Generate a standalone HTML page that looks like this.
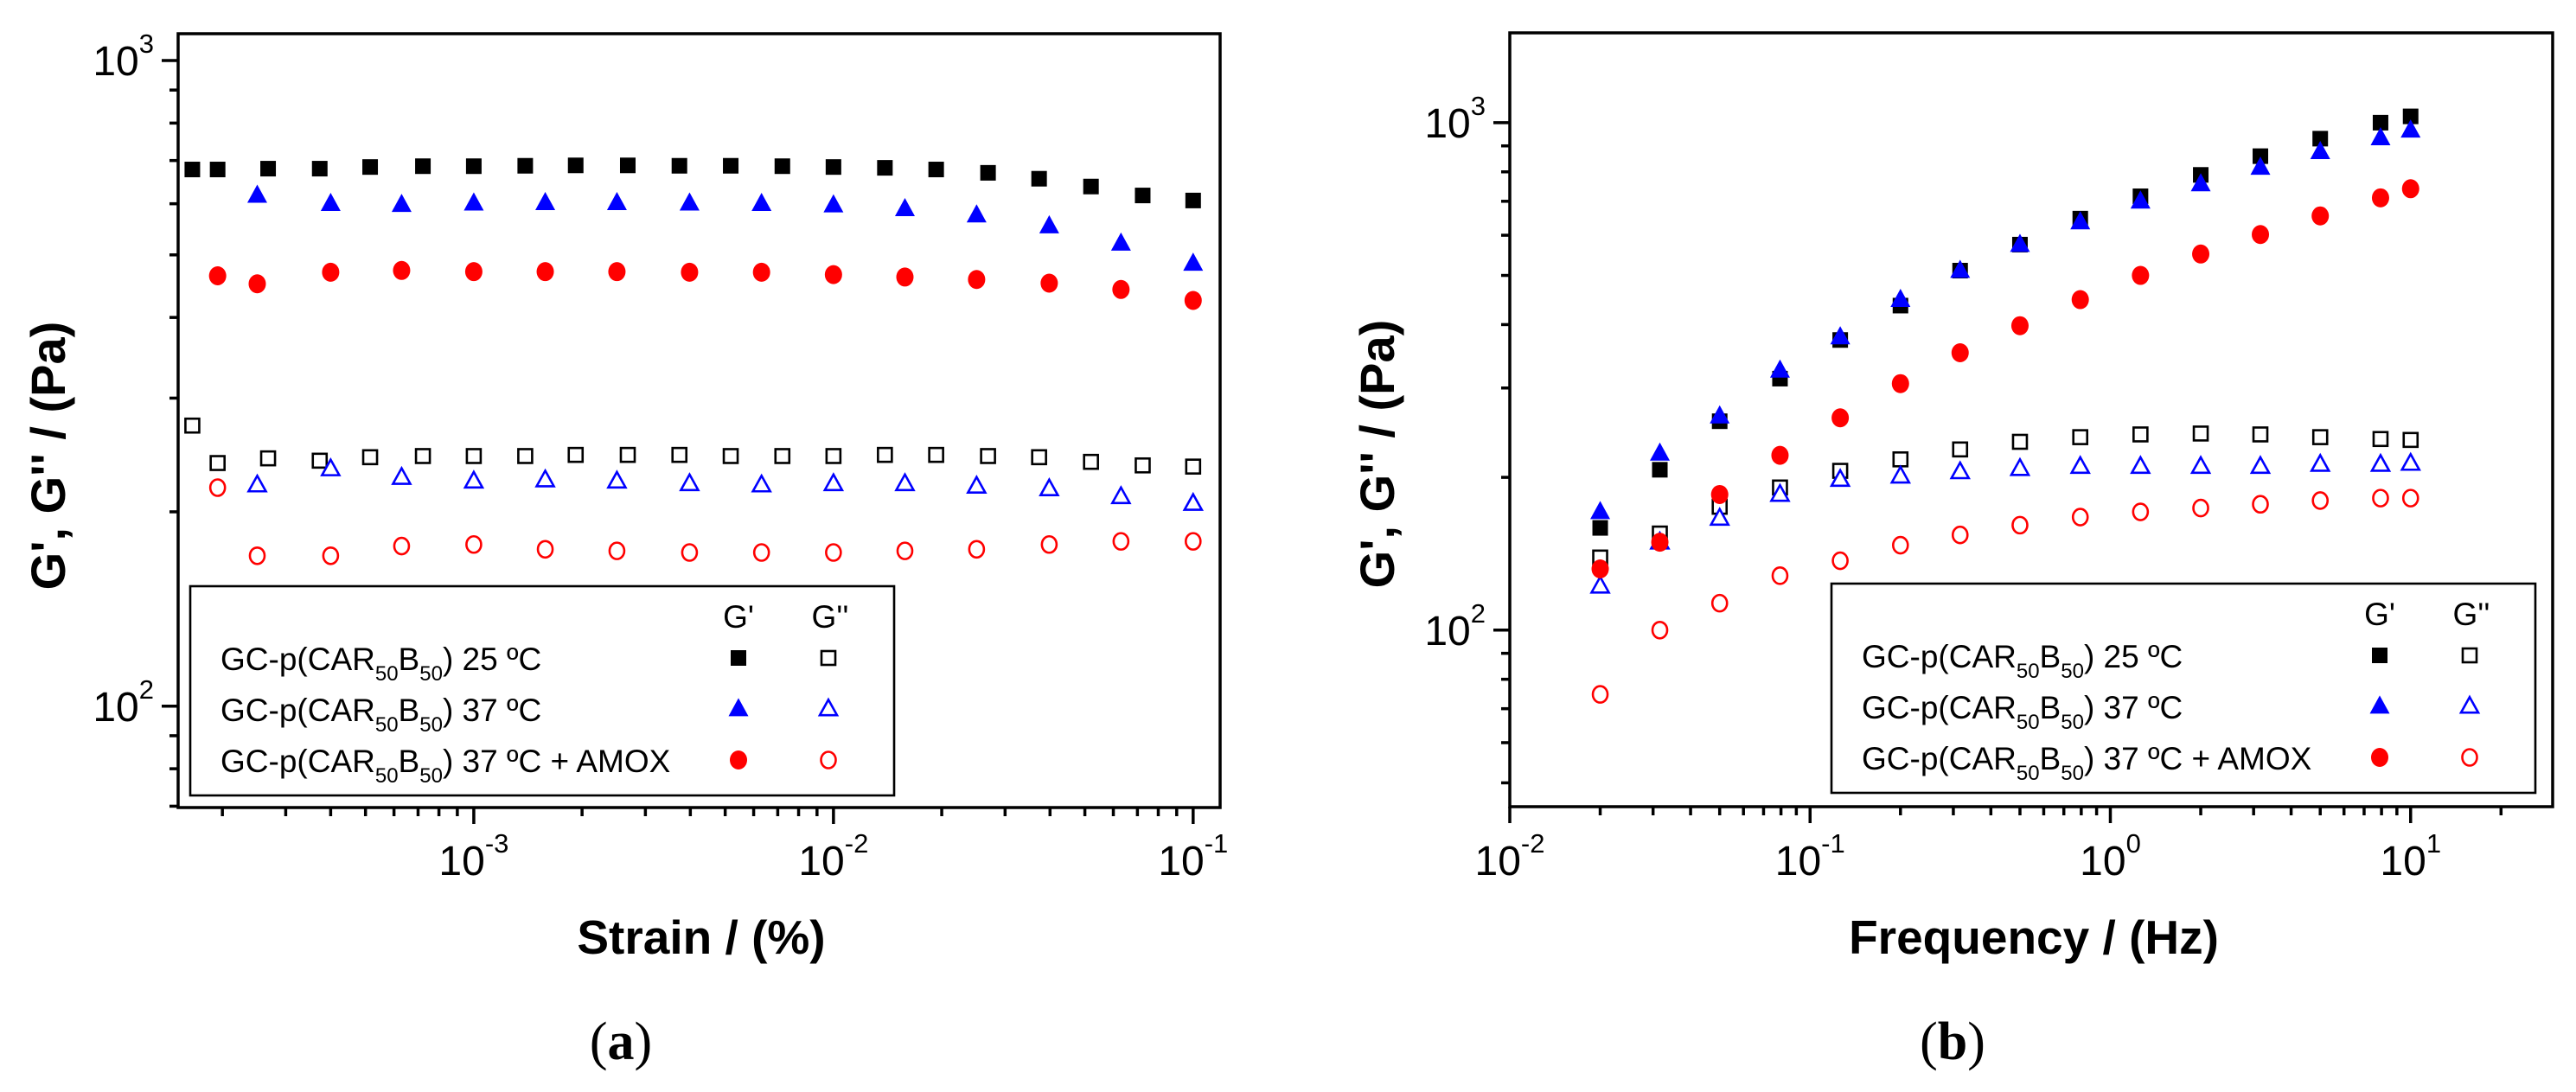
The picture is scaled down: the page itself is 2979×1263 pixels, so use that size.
<!DOCTYPE html>
<html><head><meta charset="utf-8">
<style>
html,body{margin:0;padding:0;background:#fff;}
svg{display:block;}
text{font-family:"Liberation Sans",Arial,sans-serif;}
</style></head>
<body>
<svg id="fig" width="2979" height="1263" viewBox="0 0 2979 1263" xmlns="http://www.w3.org/2000/svg">
<g id="pa"></g>
<g id="pb"></g>
</svg>
<script>
// ---- Panel (a) data: strain sweep ----
const strainSq = [1.65e-4,1.94e-4,2.68e-4,3.73e-4,5.15e-4,7.22e-4,1e-3,1.39e-3,1.92e-3,2.68e-3,3.73e-3,5.18e-3,7.21e-3,1e-2,1.39e-2,1.93e-2,2.69e-2,3.73e-2,5.2e-2,7.24e-2,1e-1];
const a_Gp25 = [678,678,680,680,684,686,686,687,688,688,687,687,686,684,682,678,670,656,638,618,607];
const a_Gpp25 = [272,238,242,240,243,244,244,244,245,245,245,244,244,244,245,245,244,243,239,236,235];
const strainTri = [2.5e-4,4e-4,6.3e-4,1e-3,1.58e-3,2.5e-3,3.98e-3,6.31e-3,1e-2,1.58e-2,2.5e-2,3.98e-2,6.3e-2,1e-1];
const a_Gp37 = [618,600,598,601,602,602,601,600,597,589,576,554,521,485];
const a_Gpp37 = [220,233,226,223,224,223,221,220,221,221,219,217,211,206];
const strainCirc = [1.94e-4,2.5e-4,4e-4,6.3e-4,1e-3,1.58e-3,2.5e-3,3.98e-3,6.31e-3,1e-2,1.58e-2,2.5e-2,3.98e-2,6.3e-2,1e-1];
const a_GpAm = [464,451,470,473,471,471,471,470,470,466,462,458,452,442,425];
const a_GppAm = [218,171,171,177,178,175,174,173,173,173,174,175,178,180,180];
const a_xTicks = [-3,-2,-1];
const a_yTicks = [2,3];

// ---- Panel (b) data: frequency sweep ----
const freq = [0.02,0.0316,0.05,0.0794,0.126,0.2,0.316,0.5,0.794,1.26,2,3.16,5,7.94,10];
const b_Gp25 = [159,207,258,313,373,436,511,575,647,716,789,859,930,1000,1029];
const b_Gpp25 = [139,155,175,191,206,217,227,235,240,243,244,243,240,238,237];
const b_Gp37 = [171,223,264,325,378,448,511,575,637,700,757,816,876,933,966];
const b_Gpp37 = [122,149,166,185,198,201,205,208,210,210,210,210,212,212,213];
const b_GpAm = [132,149,185,221,262,306,352,398,448,500,551,602,655,711,741];
const b_GppAm = [74.7,100,113,128,137,147,154,161,167,171,174,177,180,182,182];
const b_xTicks = [-2,-1,0,1];
const b_yTicks = [2,3];

const NS = "http://www.w3.org/2000/svg";
function mk(parent, tag, attrs, txt){
  const e = document.createElementNS(NS, tag);
  for (const k in attrs) e.setAttribute(k, attrs[k]);
  if (txt !== undefined) e.textContent = txt;
  parent.appendChild(e);
  return e;
}
function logScale(lo, hi, p0, p1){ return v => p0 + (Math.log10(v) - lo) / (hi - lo) * (p1 - p0); }

function marker(g, type, filled, color, x, y){
  const sw = 2.6;
  let e;
  if (type === 'sq'){
    const s = filled ? 18 : 16;
    e = mk(g, 'rect', {x:x-s/2, y:y-s/2, width:s, height:s, fill: filled?color:'#fff', stroke:color, 'stroke-width': filled?0:sw});
  } else if (type === 'tri'){
    const w = filled ? 11.5 : 10, h = filled ? 21 : 18;
    e = mk(g, 'polygon', {points:`${x},${y-h*0.6} ${x+w},${y+h*0.4} ${x-w},${y+h*0.4}`, fill: filled?color:'#fff', stroke:color, 'stroke-width': filled?0:sw});
  } else {
    e = filled ? mk(g, 'ellipse', {cx:x, cy:y, rx:10, ry:11, fill:color})
               : mk(g, 'ellipse', {cx:x, cy:y, rx:8.5, ry:9.5, fill:'#fff', stroke:color, 'stroke-width':sw});
  }
  return e;
}

function axes(g, cfg){
  const {L,R,T,B,xs,ys,xTicks,yTicks,xlo,xhi,ylo,yhi} = cfg;
  // minor & major ticks y
  for (let d = Math.floor(ylo); d <= Math.ceil(yhi); d++){
    for (let m = 1; m <= 9; m++){
      const v = m * Math.pow(10, d);
      const lv = Math.log10(v);
      if (lv < ylo - 1e-9 || lv > yhi + 1e-9) continue;
      const y = ys(v), len = m === 1 ? 19 : 10;
      const t = mk(g, 'line', {x1:L-len, x2:L, y1:y, y2:y, stroke:'#000', 'stroke-width':3.5});
      
      
    }
  }
  for (let d = Math.floor(xlo); d <= Math.ceil(xhi); d++){
    for (let m = 1; m <= 9; m++){
      const v = m * Math.pow(10, d);
      const lv = Math.log10(v);
      if (lv < xlo - 1e-9 || lv > xhi + 1e-9) continue;
      const x = xs(v), len = m === 1 ? 19 : 10;
      const t = mk(g, 'line', {x1:x, x2:x, y1:B, y2:B+len, stroke:'#000', 'stroke-width':3.5});
      
      
    }
  }
  const fr = mk(g, 'rect', {x:L, y:T, width:R-L, height:B-T, fill:'none', stroke:'#000', 'stroke-width':3.5});
  
  
  yTicks.forEach(p => {
    const y = ys(Math.pow(10, p));
    const t = mk(g, 'text', {x:L-28, y:y+17, 'font-size':48, 'text-anchor':'end'});
    
    
    mk(t, 'tspan', {}, '10');
    mk(t, 'tspan', {dy:-26, 'font-size':31}, String(p));
  });
  xTicks.forEach(p => {
    const x = xs(Math.pow(10, p));
    const t = mk(g, 'text', {x:x, y:1012, 'font-size':48, 'text-anchor':'middle'});
    
    
    mk(t, 'tspan', {}, '10');
    mk(t, 'tspan', {dy:-26, 'font-size':31}, String(p));
  });
}

function legend(g, left, top){
  const box = mk(g, 'rect', {x:left, y:top, width:814, height:242, fill:'#fff', stroke:'#000', 'stroke-width':2.6});
  
  
  const mx1 = left + 634, mx2 = left + 738;
  const h1 = mk(g, 'text', {x:mx1, y:top+48, 'font-size':37, 'text-anchor':'middle'}, "G'");
  
  
  const h2 = mk(g, 'text', {x:mx2+2, y:top+48, 'font-size':37, 'text-anchor':'middle'}, "G''");
  
  
  const rows = [
    {lab:' 25 ºC', type:'sq', color:'#000'},
    {lab:' 37 ºC', type:'tri', color:'#0000ff'},
    {lab:' 37 ºC + AMOX', type:'circ', color:'#ff0000'}
  ];
  rows.forEach((r, i) => {
    const by = top + 97 + i*59;
    const t = mk(g, 'text', {x:left+35, y:by, 'font-size':37});
    
    
    mk(t, 'tspan', {}, 'GC-p(CAR');
    mk(t, 'tspan', {dy:12, 'font-size':24}, '50');
    mk(t, 'tspan', {dy:-12}, 'B');
    mk(t, 'tspan', {dy:12, 'font-size':24}, '50');
    mk(t, 'tspan', {dy:-12}, ')' + r.lab);
    const m1 = marker(g, r.type, true, r.color, mx1, by - 14);
    
    
    const m2 = marker(g, r.type, false, r.color, mx2, by - 14);
    
    
  });
}

function series(g, xs, ys, xv, yv, type, filled, color, name){
  const sg = mk(g, 'g', {});
  
  
  xv.forEach((x, i) => {
    const m = marker(sg, type, filled, color, xs(x), ys(yv[i]));
    
    
  });
}

// Panel a
(function(){
  const g = document.getElementById('pa');
  const L=206, R=1411, T=39, B=934;
  const xlo=-3.822, xhi=-0.925, ylo=1.843, yhi=3.0415;
  const xs = logScale(xlo, xhi, L, R), ys = logScale(ylo, yhi, B, T);
  axes(g, {L,R,T,B,xs,ys,xTicks:a_xTicks,yTicks:a_yTicks,xlo,xhi,ylo,yhi});
  series(g, xs, ys, strainSq, a_Gpp25, 'sq', false, '#000', 'series-gpp-25c');
  series(g, xs, ys, strainTri, a_Gpp37, 'tri', false, '#0000ff', 'series-gpp-37c');
  series(g, xs, ys, strainCirc, a_GppAm, 'circ', false, '#ff0000', 'series-gpp-37c-amox');
  series(g, xs, ys, strainSq, a_Gp25, 'sq', true, '#000', 'series-gp-25c');
  series(g, xs, ys, strainTri, a_Gp37, 'tri', true, '#0000ff', 'series-gp-37c');
  series(g, xs, ys, strainCirc, a_GpAm, 'circ', true, '#ff0000', 'series-gp-37c-amox');
  legend(g, 220, 678);
  const yt = mk(g, 'text', {x:0, y:0, 'font-size':56, 'font-weight':'bold', 'text-anchor':'middle', transform:'translate(75,527) rotate(-90)'}, "G', G'' / (Pa)");
  
  
  const xt = mk(g, 'text', {x:811, y:1103, 'font-size':55, 'font-weight':'bold', 'text-anchor':'middle'}, 'Strain / (%)');
  
  
  const cap = mk(g, 'text', {x:718, y:1225, 'font-size':62, 'text-anchor':'middle', style:'font-family:"Liberation Serif",serif'});
  
  
  mk(cap, 'tspan', {}, '(');
  mk(cap, 'tspan', {'font-weight':'bold'}, 'a');
  mk(cap, 'tspan', {}, ')');
})();

// Panel b
(function(){
  const g = document.getElementById('pb');
  const L=1746, R=2952, T=38, B=933;
  const xlo=-2, xhi=1.473, ylo=1.652, yhi=3.177;
  const xs = logScale(xlo, xhi, L, R), ys = logScale(ylo, yhi, B, T);
  axes(g, {L,R,T,B,xs,ys,xTicks:b_xTicks,yTicks:b_yTicks,xlo,xhi,ylo,yhi});
  series(g, xs, ys, freq, b_Gpp25, 'sq', false, '#000', 'series-gpp-25c');
  series(g, xs, ys, freq, b_Gpp37, 'tri', false, '#0000ff', 'series-gpp-37c');
  series(g, xs, ys, freq, b_GppAm, 'circ', false, '#ff0000', 'series-gpp-37c-amox');
  series(g, xs, ys, freq, b_Gp25, 'sq', true, '#000', 'series-gp-25c');
  series(g, xs, ys, freq, b_Gp37, 'tri', true, '#0000ff', 'series-gp-37c');
  series(g, xs, ys, freq, b_GpAm, 'circ', true, '#ff0000', 'series-gp-37c-amox');
  legend(g, 2118, 675);
  const yt = mk(g, 'text', {x:0, y:0, 'font-size':56, 'font-weight':'bold', 'text-anchor':'middle', transform:'translate(1612,525) rotate(-90)'}, "G', G'' / (Pa)");
  
  
  const xt = mk(g, 'text', {x:2352, y:1103, 'font-size':55, 'font-weight':'bold', 'text-anchor':'middle'}, 'Frequency / (Hz)');
  
  
  const cap = mk(g, 'text', {x:2258, y:1225, 'font-size':62, 'text-anchor':'middle', style:'font-family:"Liberation Serif",serif'});
  
  
  mk(cap, 'tspan', {}, '(');
  mk(cap, 'tspan', {'font-weight':'bold'}, 'b');
  mk(cap, 'tspan', {}, ')');
})();
</script>
</body></html>
